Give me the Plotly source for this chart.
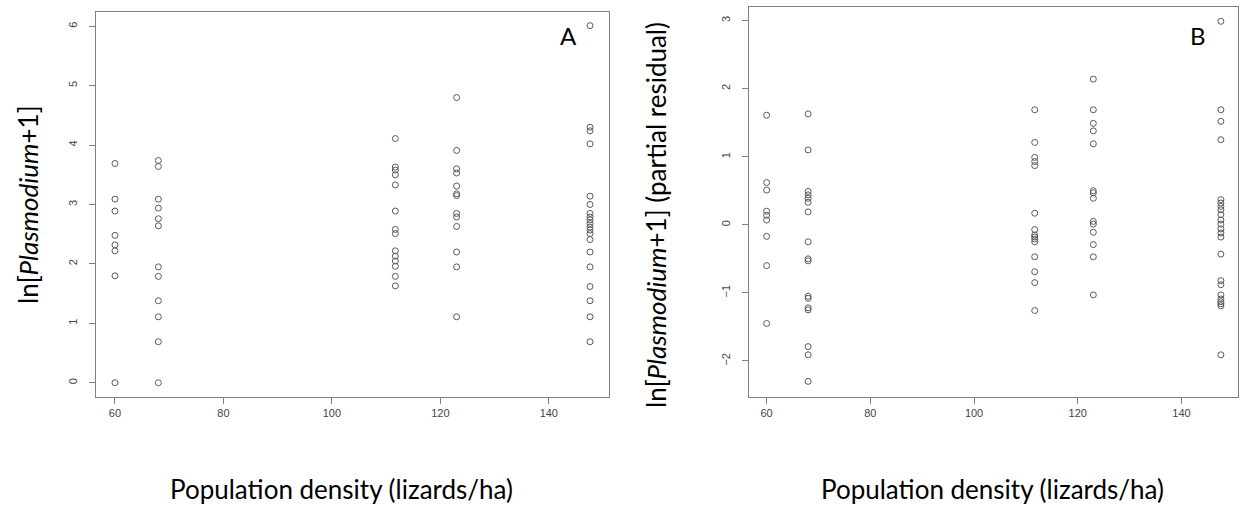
import plotly.graph_objects as go

W, H = 1243, 506

# Population densities (lizards/ha) of the five sites
density = [60, 68, 111.7, 123, 147.6]

# Panel A: ln[Plasmodium+1] per site
a_60 = [3.69, 3.09, 2.89, 2.48, 2.32, 2.22, 1.80, 0.0]
a_68 = [3.74, 3.64, 3.09, 2.94, 2.76, 2.64, 1.95, 1.79, 1.38, 1.11, 0.69, 0.0]
a_112 = [4.11, 3.63, 3.58, 3.50, 3.33, 2.89, 2.58, 2.51, 2.22, 2.13, 2.05, 1.96, 1.79, 1.63]
a_123 = [4.80, 3.91, 3.60, 3.53, 3.31, 3.18, 3.15, 2.85, 2.79, 2.63, 2.20, 1.95, 1.11]
a_148 = [6.01, 4.30, 4.24, 4.02, 3.14, 3.00, 2.85, 2.79, 2.74, 2.68, 2.62, 2.57, 2.51,
         2.41, 2.20, 1.95, 1.62, 1.38, 1.11, 0.69]

# Panel B: partial residuals per site
b_60 = [1.61, 0.62, 0.51, 0.20, 0.14, 0.07, -0.17, -0.60, -1.45]
b_68 = [1.63, 1.10, 0.49, 0.44, 0.39, 0.33, 0.19, -0.25, -0.50, -0.53, -1.05, -1.08,
        -1.22, -1.25, -1.79, -1.91, -2.30]
b_112 = [1.69, 1.21, 0.99, 0.93, 0.87, 0.17, -0.07, -0.15, -0.18, -0.21, -0.25, -0.47,
         -0.69, -0.85, -1.26]
b_123 = [2.14, 1.69, 1.49, 1.38, 1.19, 0.50, 0.47, 0.39, 0.05, 0.01, -0.11, -0.29,
         -0.47, -1.03]
b_148 = [2.99, 1.69, 1.52, 1.25, 0.37, 0.32, 0.27, 0.22, 0.15, 0.07, 0.01, -0.06, -0.12,
         -0.18, -0.43, -0.82, -0.88, -1.03, -1.09, -1.13, -1.16, -1.19, -1.91]

x_ticks = [60, 80, 100, 120, 140]
a_yticks = [0, 1, 2, 3, 4, 5, 6]
b_yticks = [-2, -1, 0, 1, 2, 3]

groups_a = [a_60, a_68, a_112, a_123, a_148]
groups_b = [b_60, b_68, b_112, b_123, b_148]


def flatten(groups):
    xs, ys = [], []
    for d, g in zip(density, groups):
        xs += [d] * len(g)
        ys += g
    return xs, ys


xa, ya = flatten(groups_a)
xb, yb = flatten(groups_b)

marker = dict(symbol="circle-open", size=6, color="#5a5a5a", line=dict(width=1, color="#5a5a5a"))

fig = go.Figure()
fig.add_trace(go.Scatter(x=xa, y=ya, mode="markers", marker=marker, xaxis="x", yaxis="y",
                         showlegend=False, hoverinfo="x+y"))
fig.add_trace(go.Scatter(x=xb, y=yb, mode="markers", marker=marker, xaxis="x2", yaxis="y2",
                         showlegend=False, hoverinfo="x+y"))


def px_x(p):
    return p / W


def px_y(p):
    return 1 - p / H


tickfont = dict(family="Liberation Sans, Arial", size=11, color="#444444")
axis_common = dict(showline=True, mirror=True, linecolor="#808080", linewidth=1.2,
                   ticks="outside", ticklen=6, tickcolor="#808080", tickwidth=1,
                   showgrid=False, zeroline=False, tickfont=tickfont)

fig.update_layout(
    width=W, height=H,
    margin=dict(l=0, r=0, t=0, b=0),
    paper_bgcolor="white", plot_bgcolor="white",
    xaxis=dict(domain=[px_x(96), px_x(609)], range=[56.5, 151.1], tickvals=x_ticks,
               anchor="y", **axis_common),
    yaxis=dict(domain=[px_y(397), px_y(12)], range=[-0.24, 6.24], tickvals=a_yticks,
               tickangle=-90, anchor="x", ticklabelstandoff=8, **axis_common),
    xaxis2=dict(domain=[px_x(749), px_x(1238)], range=[56.6, 150.9], tickvals=x_ticks,
                anchor="y2", **axis_common),
    yaxis2=dict(domain=[px_y(397), px_y(7)], range=[-2.53, 3.2], tickvals=b_yticks,
                tickangle=-90, anchor="x2", ticklabelstandoff=8, **axis_common),
)

title_font = dict(family="Lato, Open Sans, sans-serif", size=26, color="black")
ann = [
    dict(text="Population density (lizards/ha)", x=px_x(341), y=px_y(489)),
    dict(text="Population density (lizards/ha)", x=px_x(992), y=px_y(489)),
    dict(text="ln[<i>Plasmodium</i>+1]", x=px_x(28), y=px_y(205), textangle=-90),
    dict(text="ln[<i>Plasmodium</i>+1] (partial residual)", x=px_x(656), y=px_y(215), textangle=-90),
]
for a in ann:
    fig.add_annotation(xref="paper", yref="paper", showarrow=False, font=title_font,
                       xanchor="center", yanchor="middle", **a)

fig.add_annotation(xref="paper", yref="paper", x=px_x(568), y=px_y(35), text="A",
                   showarrow=False, font=dict(family="Lato, sans-serif", size=24, color="black"),
                   xanchor="center", yanchor="middle")
fig.add_annotation(xref="paper", yref="paper", x=px_x(1198), y=px_y(35), text="B",
                   showarrow=False, font=dict(family="Lato, sans-serif", size=24, color="black"),
                   xanchor="center", yanchor="middle")

fig.write_html("out.html", config={"displayModeBar": False},
               post_script="document.body.style.margin='0';document.body.style.overflow='hidden';")
